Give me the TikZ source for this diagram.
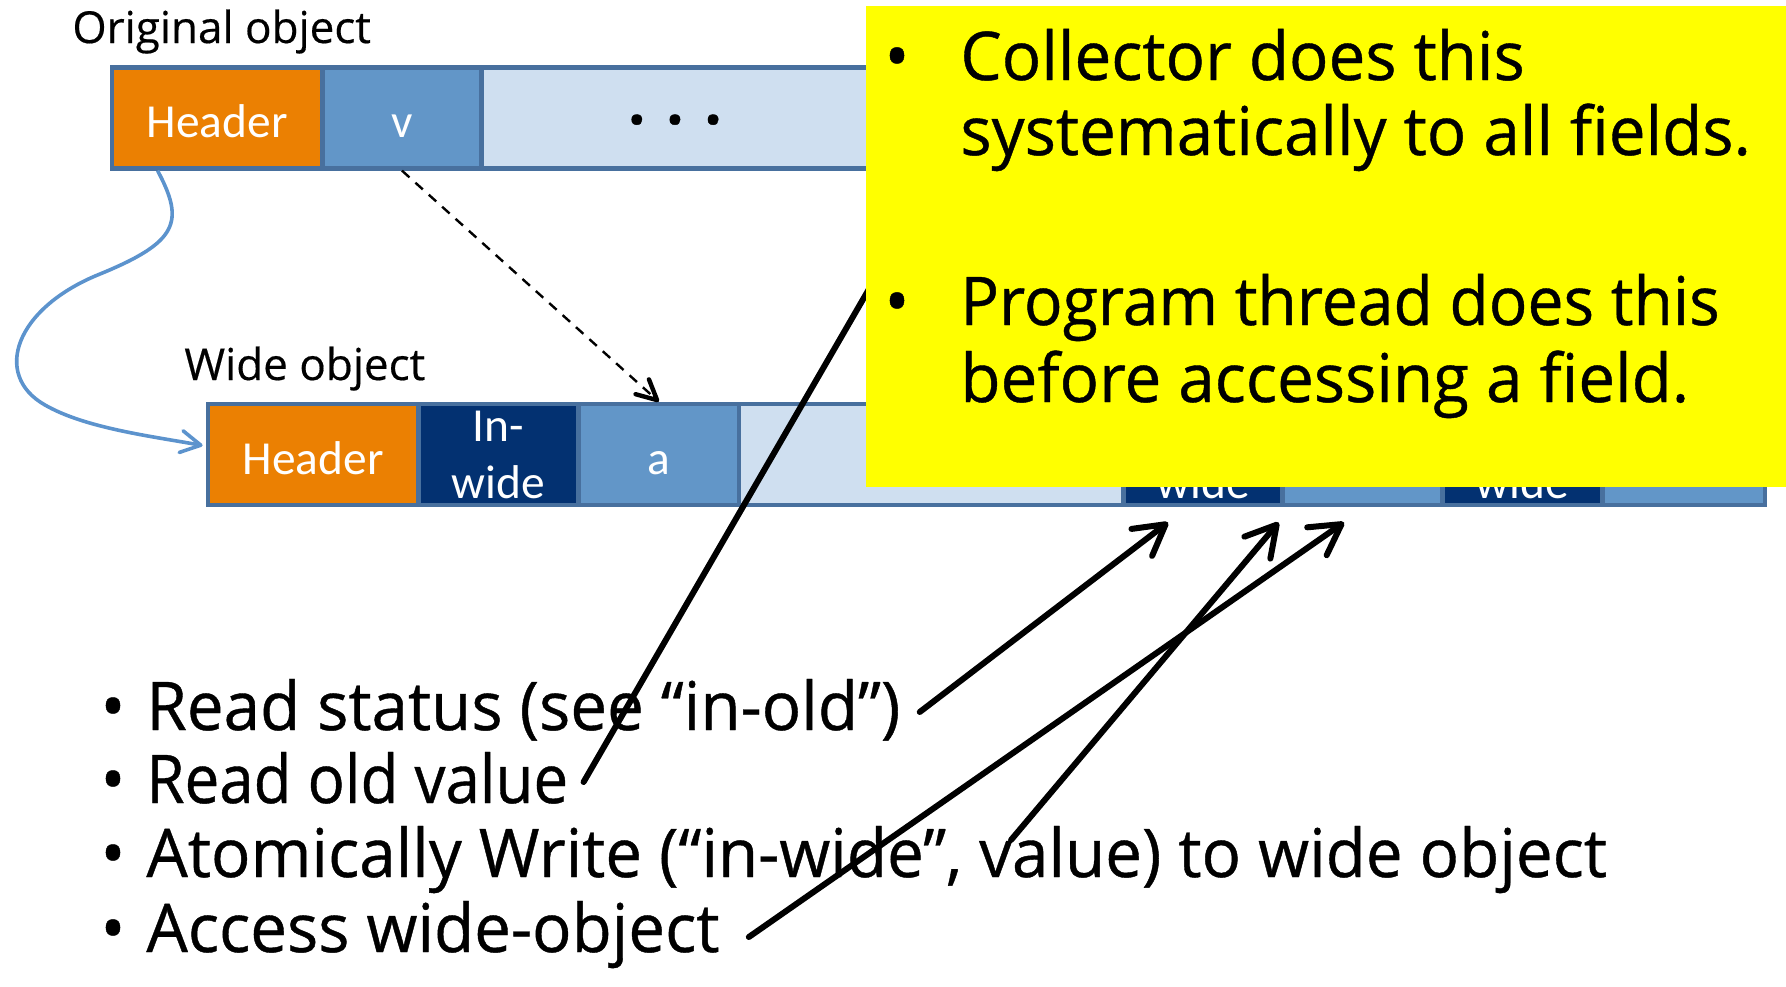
\documentclass[tikz,border=0pt]{standalone}
\usepackage{fontspec}
\setmainfont{Carlito}
\newfontfamily\handfont[FakeStretch=0.975,FakeBold=0.6]{Open Sans}
\newfontfamily\handfontnarrow[FakeStretch=0.955,FakeBold=0.6]{Open Sans}
\newfontfamily\handfontcond[FakeStretch=0.92,FakeBold=0.6]{Open Sans}
\newfontfamily\tagfont[FakeBold=0.4]{Open Sans}
\newfontfamily\cellfont{Carlito}
\usetikzlibrary{arrows.meta,calc}

\definecolor{hdrorange}{RGB}{235,128,2}
\definecolor{fieldblue}{RGB}{98,150,200}
\definecolor{restblue}{RGB}{207,223,240}
\definecolor{navy}{RGB}{3,49,113}
\definecolor{frameblue}{RGB}{72,112,158}
\definecolor{curveblue}{RGB}{92,147,205}
\definecolor{noteyellow}{RGB}{255,255,0}

\begin{document}
\begin{tikzpicture}[x=0.5pt,y=-0.5pt,
  cell/.style={draw=frameblue, line width=2.4pt, inner sep=0pt,
    minimum height=50.5pt, text=white,
    font=\cellfont\fontsize{23.7}{28.5}\selectfont},
  onecell/.style={cell, text height=19.5pt, text depth=0pt},
  twocell/.style={cell, fill=navy, align=center},
  hand/.style={font=\handfont\fontsize{33.6}{40}\selectfont, inner sep=0pt, anchor=base west},
  handdot/.style={font=\handfont\fontsize{33.6}{40}\selectfont, inner sep=0pt, anchor=base},
  tag/.style={font=\tagfont\fontsize{22}{26}\selectfont, inner sep=0pt, anchor=base west},
  thickarrow/.style={line width=3pt, line cap=round,
    -{Straight Barb[length=15pt,width=17pt,round]}},
  thickline/.style={line width=3pt, line cap=round},
  copyarrow/.style={line width=1.2pt, dash pattern=on 5pt off 4pt,
    -{Straight Barb[length=10pt,width=10pt,line width=2.2pt,round]}},
  movearrow/.style={draw=curveblue, line width=1.8pt,
    -{Straight Barb[length=10pt,width=11pt,round]}},
]
\useasboundingbox (0,0) rectangle (1786,986);

% original object
\node[tag] (otag) at (72,43) {Original object};
\node[onecell, fill=restblue, minimum width=259.25pt] (oRest) at (740.75,117.75) {};
\node[onecell, fill=hdrorange, minimum width=105.25pt] (oHdr) at (217.25,117.75) {Header};
\node[onecell, fill=fieldblue, minimum width=79.5pt] (oV) at (402,117.75) {v};
\node[font=\handfont\bfseries\fontsize{31}{32}\selectfont, inner sep=0pt, anchor=base] (odots) at (675,124) {. . .};

% wide object
\node[tag] (wtag) at (184,380) {Wide object};
\node[onecell, fill=hdrorange, minimum width=105.25pt] (wHdr) at (313.25,454.5) {Header};
\node[twocell, minimum width=80pt] (wIn) at (498.5,454.5) {In-\\wide};
\node[onecell, fill=fieldblue, minimum width=80.25pt] (wA) at (658.75,454.5) {a};
\node[onecell, fill=restblue, minimum width=192.25pt] (wRest) at (931.25,454.5) {};
\node[twocell, minimum width=79.5pt] (wIn2) at (1203,454.5) {In-\\wide};
\node[onecell, fill=fieldblue, minimum width=80pt] (wB) at (1362.5,454.5) {};
\node[twocell, minimum width=80pt] (wIn3) at (1522.5,454.5) {In-\\wide};
\node[onecell, fill=fieldblue, minimum width=81.25pt] (wC) at (1683.75,454.5) {};

% header moves to the wide object, field value is copied
\coordinate (mvStart) at ($(oHdr.south west)+(48,0)$);
\coordinate (mvEnd) at ($(wHdr.west)+(-3,-9)$);
\draw[movearrow] (mvStart) .. controls (185,222) and (178,242) .. (100,274)
  .. controls (15,308) and (-8,375) .. (45,405)
  .. controls (85,428) and (150,436) .. (mvEnd);
\draw[copyarrow] (oV.south) -- (wA.north);

% steps of the program thread
\node[handdot] (bl1) at (113,730) {•};
\node[hand] (l1) at (146,730) {Read status (see “in-old”)};
\node[handdot] (bl2) at (113,803) {•};
\node[hand, font=\handfontcond\fontsize{33.6}{40}\selectfont] (l2) at (146,803) {Read old value};
\node[handdot] (bl3) at (113,877) {•};
\node[hand] (l3) at (146,877) {Atomically Write (“in-wide”, value) to wide object};
\node[handdot] (bl4) at (113,952) {•};
\node[hand] (l4) at (146,952) {Access wide-object};

\coordinate (s1) at ($(l1.base east)+(19,-18)$);
\coordinate (s2) at (1011,840);
\coordinate (s3) at ($(l4.base east)+(29,-15)$);
\coordinate (s4) at ($(l2.base east)+(15,-21)$);
\coordinate (t1) at ($(wIn2.south)+(-35,15)$);
\coordinate (t2) at ($(wB.south west)+(-1.5,15)$);
\coordinate (t3) at ($(wB.south)+(-18.5,15)$);
\coordinate (oldField) at (935,175);

\draw[thickline] (s4) -- (oldField);
\draw[thickarrow] (s1) -- (t1);
\draw[thickarrow] (s2) -- (t2);
\draw[thickarrow] (s3) -- (t3);

% note
\node[fill=noteyellow, inner sep=0pt, minimum width=460pt, minimum height=240.5pt] (note) at (1326,246.5) {};
\node[handdot] (b1) at (897,80) {•};
\node[hand] (y1a) at (960,80) {Collector does this};
\node[hand] (y1b) at (960,155) {systematically to all fields.};
\node[handdot] (b2) at (897,325) {•};
\node[hand, font=\handfontnarrow\fontsize{33.6}{40}\selectfont] (y2a) at (960,325) {Program thread does this};
\node[hand] (y2b) at (960,402) {before accessing a field.};
\end{tikzpicture}
\end{document}
